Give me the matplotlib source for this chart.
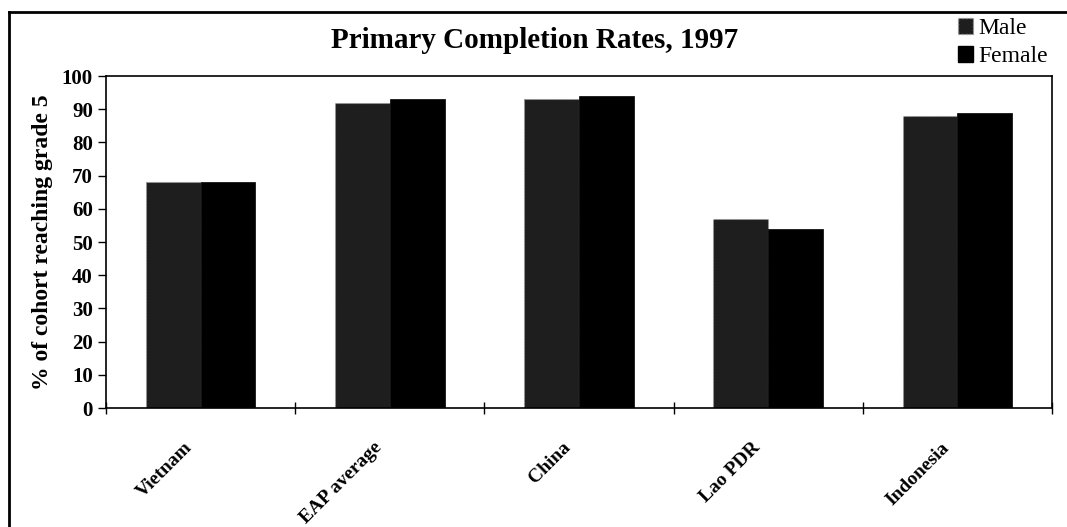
import matplotlib
matplotlib.use("Agg")
import matplotlib.pyplot as plt
import matplotlib.transforms as mtransforms
import numpy as np
from matplotlib.patches import Rectangle
from matplotlib.lines import Line2D

categories = ["Vietnam", "EAP average", "China", "Lao PDR", "Indonesia"]
male = [68, 92, 93, 57, 88]
female = [68, 93, 94, 54, 89]
yticks = [0, 10, 20, 30, 40, 50, 60, 70, 80, 90, 100]

plt.rcParams['font.family'] = ['Liberation Serif', 'DejaVu Serif']

fig = plt.figure(figsize=(10.67, 5.27), dpi=100)
ax = fig.add_axes([106/1067, 1 - 408/527, (1052-106)/1067, (408-76)/527])

x = np.arange(len(categories))
w = 0.29
ax.bar(x - w/2, male, width=w, color='#1e1e1e', edgecolor='#9a9a9a',
       linewidth=0.8, linestyle=':', label='Male', zorder=2)
ax.bar(x + w/2, female, width=w, color='#000000', edgecolor='#000000',
       linewidth=0.5, label='Female', zorder=2)

ax.set_xlim(-0.5, len(categories) - 0.5)
ax.set_ylim(0, 100)
ax.set_yticks(yticks)
ax.set_yticklabels([str(v) for v in yticks], fontsize=15, fontweight='bold')
ax.set_xticks(np.arange(len(categories) + 1) - 0.5)
ax.set_xticklabels([])
ax.tick_params(axis='x', direction='inout', length=8, width=1)
ax.tick_params(axis='y', direction='out', length=6, width=1)
for s in ax.spines.values():
    s.set_linewidth(1.2)
    s.set_color('black')

# category labels, rotated
offset = mtransforms.ScaledTranslation(-17/100, -31/100, fig.dpi_scale_trans)
for xi, name in zip(x, categories):
    ax.text(xi, 0, name, transform=ax.get_xaxis_transform() + offset,
            rotation=45, ha='right', va='top', rotation_mode='anchor',
            fontsize=14, fontweight='bold')

ax.set_ylabel("% of cohort reaching grade 5", fontsize=17, fontweight='bold',
              labelpad=6)

fig.text(535/1067, 1 - 40/527, "Primary Completion Rates, 1997",
         fontsize=21, fontweight='bold', ha='center', va='center')

handles = [Rectangle((0, 0), 1, 1, facecolor='#1e1e1e', edgecolor='#9a9a9a', linestyle=':'),
           Rectangle((0, 0), 1, 1, facecolor='black', edgecolor='black')]
fig.legend(handles, ["Male", "Female"], loc='upper left',
           bbox_to_anchor=(958/1067, 1 - 18/527), frameon=False,
           fontsize=17, handlelength=0.65, handleheight=0.65,
           handletextpad=0.2, labelspacing=0.3, borderaxespad=0,
           borderpad=0)

# outer frame lines (top and left)
fig.add_artist(Line2D([9/1067, 1], [1 - 12/527, 1 - 12/527], color='black',
                      linewidth=2, transform=fig.transFigure))
fig.add_artist(Line2D([9/1067, 9/1067], [0, 1 - 12/527], color='black',
                      linewidth=2, transform=fig.transFigure))

fig.savefig("out.png", dpi=100)
